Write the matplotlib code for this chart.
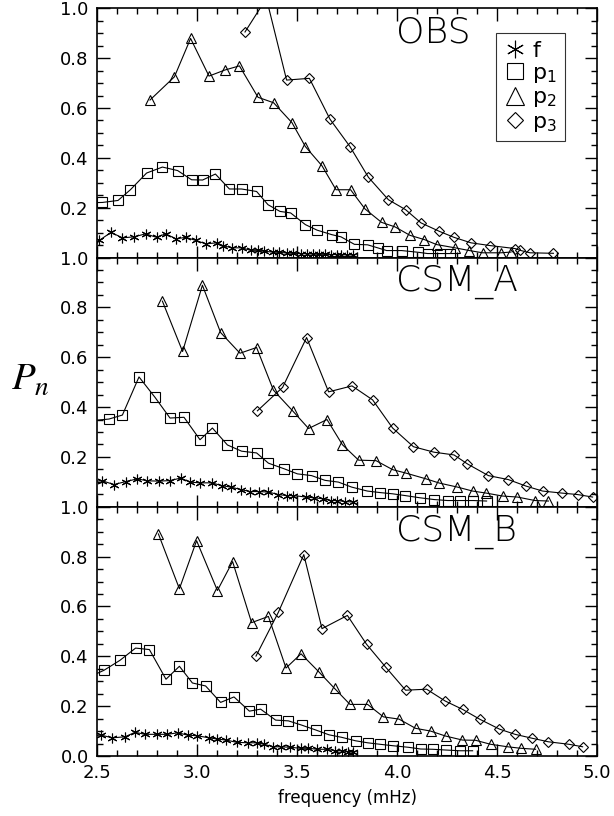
import matplotlib
matplotlib.use("Agg")
import matplotlib.pyplot as plt
from matplotlib.lines import Line2D
from matplotlib.ticker import MultipleLocator, FixedLocator, FixedFormatter

plt.rcParams['font.family'] = ['DejaVu Sans']
plt.rcParams['mathtext.default'] = 'regular'

# ---- OBS ----
obs_f_x = [2.465, 2.512, 2.57, 2.627, 2.685, 2.743, 2.798, 2.843, 2.895, 2.943, 2.993, 3.043,
           3.098, 3.132, 3.173, 3.223, 3.268, 3.307, 3.335, 3.38, 3.41, 3.45, 3.48, 3.52,
           3.55, 3.58, 3.61, 3.64, 3.67, 3.70, 3.72, 3.75, 3.78]
obs_f_y = [0.02, 0.069, 0.101, 0.079, 0.083, 0.095, 0.081, 0.095, 0.075, 0.081, 0.069, 0.055,
           0.059, 0.047, 0.039, 0.039, 0.029, 0.029, 0.025, 0.022, 0.021, 0.018, 0.017, 0.016,
           0.015, 0.014, 0.013, 0.013, 0.012, 0.012, 0.011, 0.011, 0.010]
obs_p1_x = [2.47, 2.527, 2.605, 2.667, 2.748, 2.827, 2.903, 2.973, 3.028, 3.092, 3.162, 3.223,
            3.298, 3.355, 3.415, 3.468, 3.542, 3.60, 3.673, 3.72, 3.787, 3.853, 3.903, 3.948,
            4.023, 4.107, 4.153, 4.215, 4.265]
obs_p1_y = [0.22, 0.221, 0.229, 0.272, 0.339, 0.363, 0.349, 0.312, 0.311, 0.335, 0.275, 0.275,
            0.265, 0.212, 0.185, 0.179, 0.132, 0.11, 0.092, 0.083, 0.053, 0.051, 0.039, 0.028,
            0.028, 0.021, 0.016, 0.016, 0.016]
obs_p2_x = [2.765, 2.887, 2.968, 3.06, 3.138, 3.212, 3.305, 3.383, 3.475, 3.542, 3.625, 3.695,
            3.768, 3.84, 3.923, 3.99, 4.065, 4.137, 4.198, 4.29, 4.362, 4.428, 4.52, 4.57]
obs_p2_y = [0.632, 0.725, 0.879, 0.728, 0.752, 0.769, 0.643, 0.621, 0.541, 0.445, 0.368, 0.272,
            0.272, 0.195, 0.141, 0.123, 0.089, 0.072, 0.052, 0.039, 0.028, 0.019, 0.019, 0.022]
obs_p3_x = [3.24, 3.347, 3.448, 3.562, 3.665, 3.765, 3.857, 3.957, 4.043, 4.12, 4.212, 4.285,
            4.37, 4.465, 4.59, 4.615, 4.665, 4.782]
obs_p3_y = [0.905, 1.04, 0.712, 0.719, 0.555, 0.445, 0.322, 0.232, 0.192, 0.139, 0.105, 0.081,
            0.059, 0.048, 0.036, 0.029, 0.019, 0.017]

# ---- CSM_A ----
csma_f_x = [2.465, 2.523, 2.585, 2.643, 2.702, 2.752, 2.812, 2.865, 2.918, 2.965, 3.015, 3.073,
            3.123, 3.168, 3.22, 3.265, 3.312, 3.357, 3.407, 3.448, 3.482, 3.545, 3.585, 3.632,
            3.668, 3.702, 3.74, 3.782]
csma_f_y = [0.10, 0.105, 0.089, 0.101, 0.112, 0.104, 0.103, 0.105, 0.115, 0.099, 0.096, 0.096,
            0.085, 0.079, 0.069, 0.061, 0.061, 0.059, 0.049, 0.045, 0.045, 0.039, 0.036, 0.032,
            0.025, 0.025, 0.021, 0.019]
csma_p1_x = [2.47, 2.56, 2.627, 2.71, 2.79, 2.865, 2.935, 3.015, 3.077, 3.152, 3.223, 3.298,
             3.357, 3.437, 3.502, 3.573, 3.64, 3.707, 3.773, 3.852, 3.915, 3.978, 4.04, 4.115,
             4.185, 4.253, 4.315, 4.382, 4.448]
csma_p1_y = [0.345, 0.352, 0.368, 0.521, 0.439, 0.356, 0.359, 0.269, 0.316, 0.248, 0.223, 0.216,
             0.175, 0.152, 0.132, 0.125, 0.106, 0.099, 0.079, 0.063, 0.057, 0.052, 0.045, 0.036,
             0.029, 0.025, 0.025, 0.025, 0.023]
csma_p2_x = [2.827, 2.928, 3.027, 3.118, 3.215, 3.298, 3.382, 3.478, 3.558, 3.65, 3.727, 3.808,
             3.895, 3.978, 4.045, 4.145, 4.212, 4.302, 4.378, 4.445, 4.528, 4.602, 4.69, 4.757]
csma_p2_y = [0.825, 0.623, 0.889, 0.699, 0.616, 0.639, 0.468, 0.385, 0.314, 0.35, 0.249, 0.187,
             0.185, 0.149, 0.135, 0.112, 0.095, 0.079, 0.063, 0.055, 0.043, 0.039, 0.025, 0.023]
csma_p3_x = [3.302, 3.428, 3.548, 3.658, 3.775, 3.878, 3.978, 4.082, 4.185, 4.285, 4.352, 4.457,
             4.557, 4.645, 4.728, 4.823, 4.903, 4.978]
csma_p3_y = [0.385, 0.479, 0.679, 0.461, 0.485, 0.429, 0.316, 0.241, 0.219, 0.208, 0.172, 0.125,
             0.109, 0.083, 0.063, 0.055, 0.049, 0.039]

# ---- CSM_B ----
csmb_f_x = [2.465, 2.518, 2.577, 2.64, 2.69, 2.74, 2.798, 2.852, 2.903, 2.953, 3.002, 3.06,
            3.102, 3.145, 3.198, 3.253, 3.298, 3.335, 3.382, 3.42, 3.465, 3.518, 3.557, 3.602,
            3.648, 3.69, 3.723, 3.757, 3.78]
csmb_f_y = [0.08, 0.084, 0.073, 0.077, 0.095, 0.087, 0.087, 0.087, 0.093, 0.084, 0.081, 0.073,
            0.068, 0.064, 0.055, 0.053, 0.053, 0.047, 0.037, 0.037, 0.035, 0.031, 0.031, 0.027,
            0.027, 0.021, 0.021, 0.017, 0.015]
csmb_p1_x = [2.47, 2.535, 2.615, 2.693, 2.762, 2.845, 2.912, 2.977, 3.043, 3.118, 3.185, 3.262,
             3.318, 3.393, 3.457, 3.523, 3.595, 3.66, 3.723, 3.793, 3.853, 3.915, 3.982, 4.057,
             4.118, 4.178, 4.243, 4.315, 4.378]
csmb_p1_y = [0.32, 0.344, 0.384, 0.433, 0.427, 0.308, 0.36, 0.293, 0.281, 0.215, 0.237, 0.18,
             0.188, 0.144, 0.141, 0.124, 0.104, 0.085, 0.075, 0.061, 0.053, 0.047, 0.041, 0.035,
             0.028, 0.027, 0.024, 0.021, 0.021]
csmb_p2_x = [2.807, 2.912, 2.998, 3.102, 3.178, 3.273, 3.357, 3.445, 3.52, 3.61, 3.688, 3.765,
             3.853, 3.932, 4.01, 4.093, 4.168, 4.243, 4.327, 4.393, 4.468, 4.553, 4.618, 4.693]
csmb_p2_y = [0.891, 0.671, 0.864, 0.664, 0.78, 0.535, 0.56, 0.353, 0.41, 0.337, 0.271, 0.207,
             0.207, 0.157, 0.148, 0.111, 0.1, 0.08, 0.064, 0.063, 0.047, 0.037, 0.031, 0.027]
csmb_p3_x = [3.295, 3.407, 3.534, 3.625, 3.752, 3.848, 3.943, 4.043, 4.148, 4.24, 4.328, 4.415,
             4.512, 4.59, 4.677, 4.757, 4.86, 4.928]
csmb_p3_y = [0.401, 0.577, 0.808, 0.511, 0.564, 0.448, 0.357, 0.264, 0.268, 0.221, 0.187, 0.147,
             0.108, 0.087, 0.071, 0.057, 0.047, 0.037]

panel_names = ["OBS", "CSM_A", "CSM_B"]
mode_labels = ["f", "p$_1$", "p$_2$", "p$_3$"]
xticks = [2.5, 3.0, 3.5, 4.0, 4.5, 5.0]
yticks = [0.0, 0.2, 0.4, 0.6, 0.8, 1.0]

panels = [
    [(obs_f_x, obs_f_y), (obs_p1_x, obs_p1_y), (obs_p2_x, obs_p2_y), (obs_p3_x, obs_p3_y)],
    [(csma_f_x, csma_f_y), (csma_p1_x, csma_p1_y), (csma_p2_x, csma_p2_y), (csma_p3_x, csma_p3_y)],
    [(csmb_f_x, csmb_f_y), (csmb_p1_x, csmb_p1_y), (csmb_p2_x, csmb_p2_y), (csmb_p3_x, csmb_p3_y)],
]

markers = [(6, 2, 0), 's', '^', 'D']
msizes = [7, 6.5, 7, 4.8]

fig = plt.figure(figsize=(6.14, 8.16), dpi=100)
left, right = 97 / 614, 597 / 614
top, bottom = 1 - 8.3 / 816, 1 - 756 / 816
h = (top - bottom) / 3

for i, series in enumerate(panels):
    ax = fig.add_axes([left, top - (i + 1) * h, right - left, h])
    for (xs, ys), m, ms in zip(series, markers, msizes):
        ax.plot(xs, ys, color='black', lw=0.8, marker=m, ms=ms, mfc='none',
                mec='black', mew=0.8)
    ax.set_xlim(2.5, 5.0)
    ax.set_ylim(0.0, 1.0)
    ax.xaxis.set_major_locator(FixedLocator(xticks))
    ax.xaxis.set_minor_locator(MultipleLocator(0.1))
    ax.yaxis.set_major_locator(FixedLocator(yticks))
    ax.yaxis.set_minor_locator(MultipleLocator(0.05))
    ylabs = ["%.1f" % v for v in yticks]
    if i < 2:
        ylabs[0] = ""
    ax.yaxis.set_major_formatter(FixedFormatter(ylabs))
    ax.tick_params(which='both', direction='in', top=True, right=True, width=1.0,
                   labelsize=13, pad=6)
    ax.tick_params(which='major', length=9)
    ax.tick_params(which='minor', length=4.5)
    if i < 2:
        ax.tick_params(labelbottom=False)
    else:
        ax.set_xticklabels(["%.1f" % v for v in xticks])
        ax.set_xlabel("frequency (mHz)", fontsize=12, labelpad=5)
    for s in ax.spines.values():
        s.set_linewidth(1.2)
    ax.text(0.598, 0.97, panel_names[i], transform=ax.transAxes, ha='left', va='top',
            fontsize=26, fontweight='light')
    if i == 0:
        handles = [Line2D([], [], ls='none', marker=m, ms=ms * 1.8, mfc='none', mec='black',
                          mew=0.8, color='black') for m, ms in zip(markers, msizes)]
        leg = ax.legend(handles, mode_labels, loc='upper right', bbox_to_anchor=(0.936, 0.90),
                        borderaxespad=0, fancybox=False, fontsize=16, handlelength=1.0,
                        handletextpad=0.3, labelspacing=0.1, borderpad=0.35)
        leg.get_frame().set_edgecolor('black')
        leg.get_frame().set_linewidth(0.8)

fig.text(0.05, 0.535, r"$\mathit{P}_{\mathit{n}}$", fontsize=28, ha='center', va='center',
         math_fontfamily='stix')

fig.savefig("out.png", dpi=100)
